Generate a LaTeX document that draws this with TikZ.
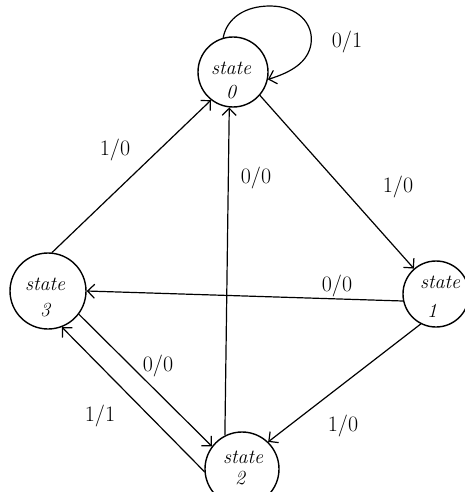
\documentclass[tikz,border=0pt]{standalone}
\usetikzlibrary{arrows.meta}
\begin{document}
\begin{tikzpicture}[x=1pt,y=-1pt,
  statecirc/.style={circle,draw,line width=1.4pt,inner sep=0pt,minimum size=#1},
  stateword/.style={font=\fontsize{20}{22}\selectfont\itshape,inner sep=0pt},
  edge/.style={line width=1.2pt,-{Straight Barb[length=7pt,width=14pt,line width=1.2pt]}},
  lbl/.style={font=\fontsize{22}{24}\selectfont,inner sep=1pt}]
\useasboundingbox (0,0) rectangle (465,492);
\fill[white] (0,0) rectangle (465,492);

% states
\node[statecirc=70pt] (s0) at (233,72) {};
\node[statecirc=66pt] (s1) at (436,294) {};
\node[statecirc=74pt] (s2) at (242,469) {};
\node[statecirc=76pt] (s3) at (48,291) {};

\node[stateword] (w0) at (231,68) {state};
\node[stateword] (n0) at (231,92) {0};
\node[stateword] (w1) at (440,282) {state};
\node[stateword] (n1) at (432,311) {1};
\node[stateword] (w2) at (243,457) {state};
\node[stateword] (n2) at (240,478) {2};
\node[stateword] (w3) at (45,284) {state};
\node[stateword] (n3) at (45,310) {3};

% transitions
\draw[edge] (s0.106) .. controls (227,18) and (245,6) .. (270,6)
            .. controls (298,6) and (314,24) .. (311,44)
            .. controls (308,62) and (292,72) .. (s0.348);
\draw[edge] (s3.84) -- (s0.232);
\draw[edge] (s2.117) -- (s0.264);
\draw[edge] (s0.319) -- (s1.131);
\draw[edge] (s1.192) -- (s3.0);
\draw[edge] (s3.323) -- (s2.143);
\draw[edge] (s2.184) -- (s3.291);
\draw[edge] (s1.243) -- (s2.46);

% input/output labels
\node[lbl] (l00) at (347,42) {0/1};
\node[lbl] (l30) at (115,150) {1/0};
\node[lbl] (l20) at (256,178) {0/0};
\node[lbl] (l01) at (398,187) {1/0};
\node[lbl] (l13) at (337,286) {0/0};
\node[lbl] (l32) at (158,366) {0/0};
\node[lbl] (l23) at (100,416) {1/1};
\node[lbl] (l12) at (343,426) {1/0};
\end{tikzpicture}
\end{document}
